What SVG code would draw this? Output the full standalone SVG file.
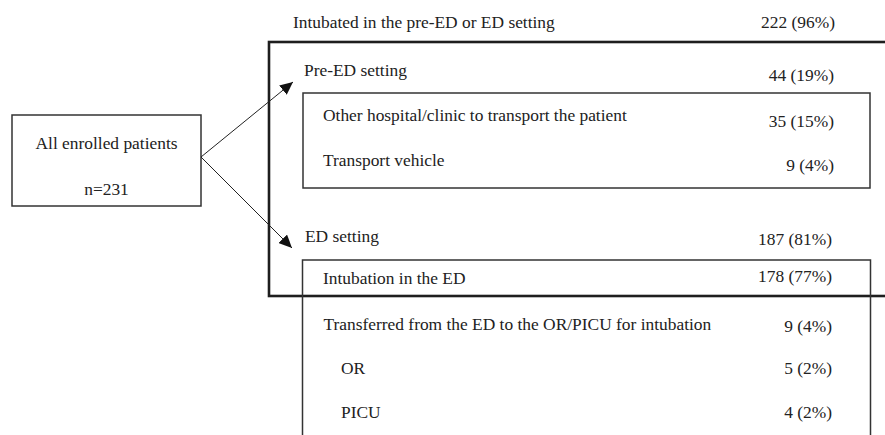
<svg xmlns="http://www.w3.org/2000/svg" width="885" height="435" viewBox="0 0 885 435">
<defs>
<style>
text{font-family:"Liberation Serif","Times New Roman",serif;font-size:17.4px;fill:#222}
.num{text-anchor:end}
.thin{fill:none;stroke:#333;stroke-width:1.5}
.thick{fill:none;stroke:#1e1e1e;stroke-width:2.6}
.conn{fill:none;stroke:#222;stroke-width:1}
</style>
<marker id="arr" markerUnits="userSpaceOnUse" markerWidth="14" markerHeight="12" viewBox="0 0 14 12" refX="13" refY="6" orient="auto">
<path d="M0,0 L13,6 L0,12 Z" fill="#111"/>
</marker>
</defs>
<rect width="885" height="435" fill="#fff"/>
<g id="intubated">
<text x="293" y="28">Intubated in the pre-ED or ED setting</text>
<text class="num" x="835" y="28">222 (96%)</text>
<rect class="thick" x="269" y="42" width="700" height="254"/>
</g>
<g id="pre-ed">
<text x="304" y="76">Pre-ED setting</text>
<text class="num" x="834" y="81">44 (19%)</text>
</g>
<g id="pre-ed-details">
<rect class="thin" x="303" y="93" width="567" height="95"/>
<text x="323" y="121">Other hospital/clinic to transport the patient</text>
<text class="num" x="834" y="126.5">35 (15%)</text>
<text x="323" y="165.5">Transport vehicle</text>
<text class="num" x="834" y="171">9 (4%)</text>
</g>
<g id="ed">
<text x="305" y="242">ED setting</text>
<text class="num" x="832" y="245">187 (81%)</text>
</g>
<g id="ed-details">
<path class="thin" d="M302.5,436 V260 H870.5 V436"/>
<text x="323" y="284">Intubation in the ED</text>
<text class="num" x="832" y="281.5">178 (77%)</text>
<text x="323.5" y="330">Transferred from the ED to the OR/PICU for intubation</text>
<text class="num" x="832" y="331.5">9 (4%)</text>
<text x="341" y="373.5">OR</text>
<text class="num" x="832" y="374">5 (2%)</text>
<text x="341" y="418">PICU</text>
<text class="num" x="832" y="418">4 (2%)</text>
</g>
<g id="all-enrolled">
<rect class="thin" x="12" y="115" width="189" height="91"/>
<text x="106.5" y="149" text-anchor="middle">All enrolled patients</text>
<text x="106.5" y="195" text-anchor="middle">n=231</text>
</g>
<g id="connectors">
<line class="conn" x1="201" y1="157" x2="293" y2="82" marker-end="url(#arr)"/>
<line class="conn" x1="201" y1="157" x2="292" y2="248" marker-end="url(#arr)"/>
</g>
</svg>
